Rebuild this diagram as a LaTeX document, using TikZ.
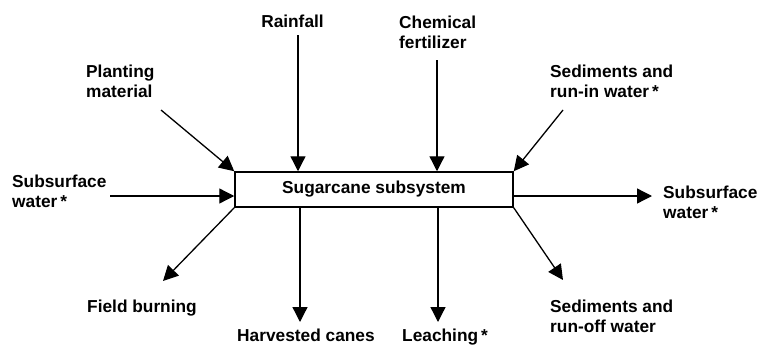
\documentclass[tikz,border=0pt]{standalone}
\usepackage{fontspec}
\setmainfont{Liberation Sans}
\usetikzlibrary{arrows.meta}

\begin{document}
\begin{tikzpicture}[
		x=1pt, y=-1pt,
		every node/.style={font=\bfseries\fontsize{17.3}{20}\selectfont, align=left, inner sep=0pt},
		flow/.style={-{Triangle[length=15pt, width=15pt]}, line width=1.3pt},
		sysbox/.style={draw, line width=1.5pt, minimum width=278pt, minimum height=35pt}
	]
  \useasboundingbox (0,0) rectangle (758,351);
  \node (sys) [sysbox] at (374,189.5) {Sugarcane subsystem};
  % inputs (base of a two-line label is its second line)
  \node (plant) [anchor=base west] at (86,97) {Planting\\material};
  \node (rain) [anchor=base] at (292.5,27) {Rainfall};
  \node (chem) [anchor=base west] at (399,48) {Chemical\\fertilizer};
  \node (runin) [anchor=base west] at (550,97) {Sediments and\\run-in water\,*};
  \node (subin) [anchor=base west] at (12,207) {Subsurface\\water\,*};
  % outputs
  \node (subout) [anchor=base west] at (663,218) {Subsurface\\water\,*};
  \node (burn) [anchor=base west] at (87,312) {Field burning};
  \node (harv) [anchor=base west] at (237,341) {Harvested canes};
  \node (leach) [anchor=base west] at (402,341) {Leaching\,*};
  \node (runoff) [anchor=base west] at (550,332) {Sediments and\\run-off water};
  % arrow tails and heads
  \coordinate (plant_t) at (161,110);
  \coordinate (rain_t) at (298,35);
  \coordinate (chem_t) at (437,60);
  \coordinate (runin_t) at (563,110);
  \coordinate (subin_t) at (110,196);
  \coordinate (subout_h) at (652,196);
  \coordinate (burn_h) at (163,281);
  \coordinate (harv_h) at (300,322);
  \coordinate (leach_h) at (438,322);
  \coordinate (runoff_h) at (563,280);
  \draw [flow] (plant_t) -- (sys.north west);
  \draw [flow] (rain_t) -- (rain_t |- sys.north);
  \draw [flow] (chem_t) -- (chem_t |- sys.north);
  \draw [flow] (runin_t) -- (sys.north east);
  \draw [flow] (subin_t) -- (sys.west |- subin_t);
  \draw [flow] (sys.east |- subout_h) -- (subout_h);
  \draw [flow] (sys.south west) -- (burn_h);
  \draw [flow] (harv_h |- sys.south) -- (harv_h);
  \draw [flow] (leach_h |- sys.south) -- (leach_h);
  \draw [flow] (sys.south east) -- (runoff_h);
\end{tikzpicture}
\end{document}
